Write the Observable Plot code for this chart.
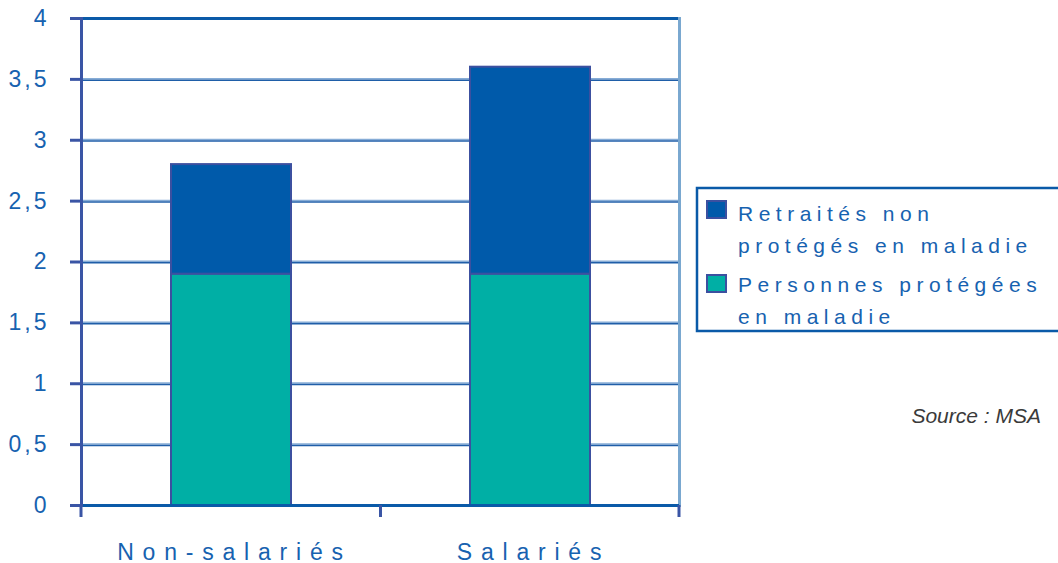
<!DOCTYPE html>
<html><head><meta charset="utf-8">
<script src="https://cdn.jsdelivr.net/npm/d3@7"></script>
<script src="https://cdn.jsdelivr.net/npm/@observablehq/plot@0.6"></script>
<style>
body{margin:0;background:#fff;}
#wrap{position:relative;width:1058px;height:563px;overflow:hidden;font-family:"Liberation Sans",Arial,sans-serif;}
#wrap svg{position:absolute;left:0;top:0;}
</style></head><body><div id="wrap"></div>
<script>
const categories = ["Non-salariés", "Salariés"];
const series = ["Personnes protégées en maladie", "Retraités non protégés en maladie"];
const protegees = [1.9, 1.9];
const retraites = [0.9, 1.7];
const yTicks = [0, 0.5, 1, 1.5, 2, 2.5, 3, 3.5, 4];
const legendItems = [
  {serie: "Retraités non protégés en maladie", lines: ["Retraités non", "protégés en maladie"]},
  {serie: "Personnes protégées en maladie", lines: ["Personnes protégées", "en maladie"]}
];
const sourceText = "Source : MSA";
const colors = ["#00afa5", "#005aaa"];

const data = categories.flatMap((c, i) => [
  {cat: c, serie: series[0], value: protegees[i]},
  {cat: c, serie: series[1], value: retraites[i]}
]);

const textColor = "#1762b0";
const axisBlue = "#3a55a5";

const boundaryTicks = (index, scales, values, dims) => {
  const g = d3.create("svg:g");
  const x = scales.x;
  const centers = categories.map(c => x(c) + x.bandwidth() / 2);
  const xs = [dims.marginLeft];
  for (let i = 1; i < centers.length; i++) xs.push((centers[i - 1] + centers[i]) / 2);
  xs.push(dims.width - dims.marginRight);
  const y0 = dims.height - dims.marginBottom;
  xs.forEach(v => g.append("line").attr("x1", v).attr("x2", v).attr("y1", y0).attr("y2", y0 + 12)
    .attr("stroke", axisBlue).attr("stroke-width", 3));
  return g.node();
};

const chart = Plot.plot({
  width: 1058, height: 563,
  marginLeft: 81, marginRight: 379, marginTop: 18, marginBottom: 58,
  style: {fontFamily: '"Liberation Sans", Arial, sans-serif', background: "transparent"},
  x: {domain: categories, paddingInner: 0.6, paddingOuter: 0.3, axis: null, label: null},
  y: {domain: [0, 4], axis: null, label: null},
  color: {domain: series, range: colors},
  marks: [
    Plot.ruleY(yTicks.slice(1, -1), {stroke: "#86acd6", strokeWidth: 1.5, dy: -0.75}),
    Plot.ruleY(yTicks.slice(1, -1), {stroke: "#1f5ea8", strokeWidth: 1.5, dy: 0.75}),
    Plot.ruleY([4], {stroke: "#0a5aa8", strokeWidth: 3}),
    Plot.frame({anchor: "right", stroke: "#7aa8d0", strokeWidth: 3}),
    Plot.barY(data, Plot.stackY({x: "cat", y: "value", fill: "serie", stroke: "#3c50a0", strokeWidth: 2})),
    Plot.ruleY([0], {stroke: "#0a5aa8", strokeWidth: 3}),
    Plot.frame({anchor: "left", stroke: axisBlue, strokeWidth: 3}),
    Plot.axisY(yTicks, {tickSize: 11, tickPadding: 21, fontSize: 23, stroke: axisBlue, strokeWidth: 3, fill: textColor,
      label: null, tickFormat: d => String(d).replace(".", ",")}),
    Plot.axisX({tickSize: 0, tickPadding: 38, fontSize: 23, fill: textColor, dx: 3, label: null}),
    boundaryTicks
  ]
});
document.getElementById("wrap").appendChild(chart);
d3.select(chart).selectAll('g[aria-label="x-axis tick label"] text').attr("letter-spacing", 8.8);
d3.select(chart).selectAll('g[aria-label="y-axis tick label"] text').attr("letter-spacing", 3);

// Legend and source overlay
const ov = d3.select("#wrap").append("svg").attr("width", 1058).attr("height", 563)
  .style("pointer-events", "none");
ov.append("path").attr("d", "M1062,188H697V331H1062").attr("fill", "none")
  .attr("stroke", "#0a5aa8").attr("stroke-width", 2.5);
const swatchY = [201, 275];
const baselines = [[221, 253], [292, 324]];
legendItems.forEach((it, i) => {
  ov.append("rect").attr("x", 707).attr("y", swatchY[i]).attr("width", 19).attr("height", 17)
    .attr("fill", colors[series.indexOf(it.serie)]).attr("stroke", "#3c50a0").attr("stroke-width", 2);
  it.lines.forEach((t, j) => {
    ov.append("text").attr("x", 738).attr("y", baselines[i][j]).text(t)
      .attr("font-family", '"Liberation Sans", Arial, sans-serif').attr("font-size", 21)
      .attr("letter-spacing", 5.5).attr("fill", textColor);
  });
});
ov.append("text").attr("x", 1041).attr("y", 423).attr("text-anchor", "end").text(sourceText)
  .attr("font-family", '"Liberation Sans", Arial, sans-serif').attr("font-size", 21)
  .attr("font-style", "italic").attr("fill", "#3a3a3a");
</script>
</body></html>
